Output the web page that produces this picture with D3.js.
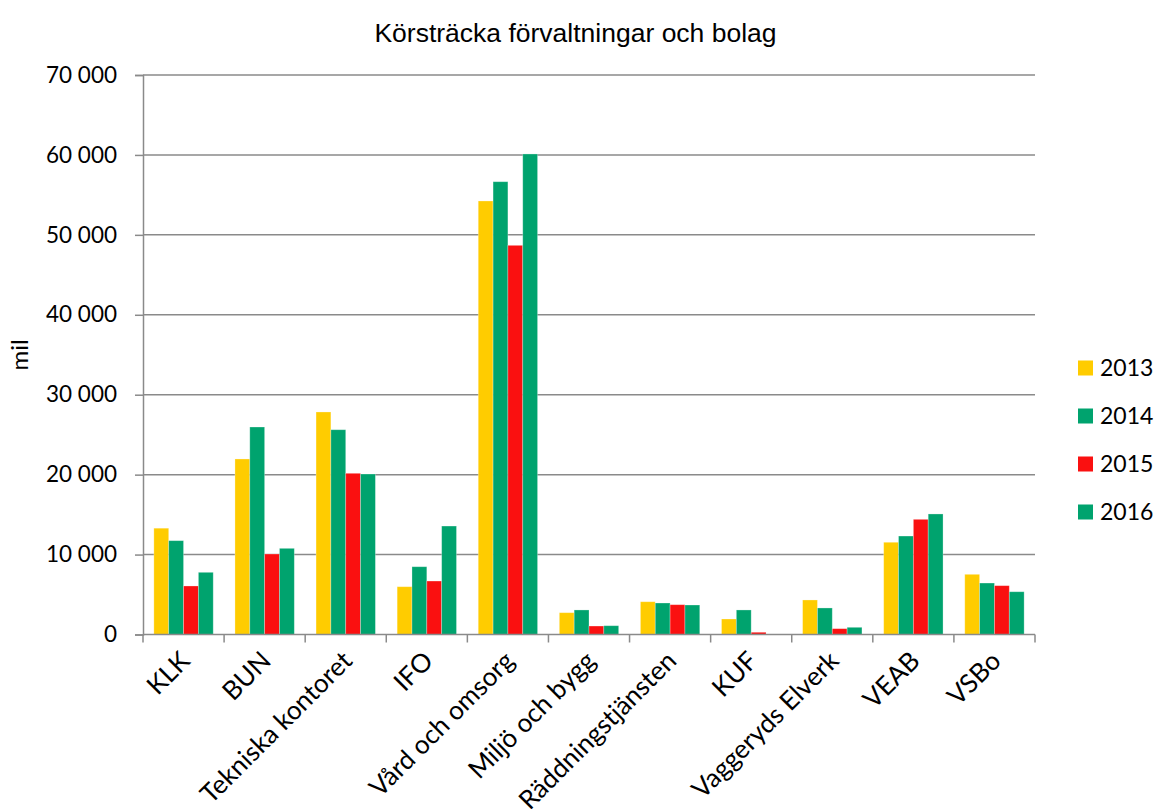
<!DOCTYPE html>
<html>
<head>
<meta charset="utf-8">
<script src="https://cdn.jsdelivr.net/npm/d3@7"></script>
<style>
  body { margin: 0; background: #fff; }
  svg { display: block; }
</style>
</head>
<body>
<div id="grafico"></div>
<script>
// Dados do gráfico
const kategorier = ["KLK", "BUN", "Tekniska kontoret", "IFO", "Vård och omsorg", "Miljö och bygg",
  "Räddningstjänsten", "KUF", "Vaggeryds Elverk", "VEAB", "VSBo"];
const ar = ["2013", "2014", "2015", "2016"];
const v2013 = [13300, 21960, 27840, 5980, 54240, 2730, 4100, 1940, 4320, 11540, 7530];
const v2014 = [11740, 25960, 25620, 8480, 56650, 3070, 3940, 3070, 3320, 12320, 6440];
const v2015 = [6070, 10070, 20170, 6690, 48690, 1060, 3730, 280, 730, 14410, 6110];
const v2016 = [7780, 10780, 20080, 13570, 60120, 1100, 3690, 0, 900, 15080, 5350];
const yTicks = [0, 10000, 20000, 30000, 40000, 50000, 60000, 70000];

const serier = [v2013, v2014, v2015, v2016];
const farger = ["#ffcc00", "#00a36e", "#fa1010", "#00a36e"];

const largura = 1155;
const altura = 809;
const margem = { top: 75, right: 120, bottom: 174.5, left: 143 };

const svg = d3.select("#grafico").append("svg")
  .attr("width", largura)
  .attr("height", altura);

// Escalas
const x0 = d3.scaleBand()
  .domain(kategorier)
  .range([margem.left, largura - margem.right])
  .paddingInner(0.268)
  .paddingOuter(0.134);

const x1 = d3.scaleBand()
  .domain(ar)
  .range([0, x0.bandwidth()]);

const y = d3.scaleLinear()
  .domain([0, 70000])
  .range([altura - margem.bottom, margem.top]);

const fmt = d3.formatLocale({ decimal: ",", thousands: " ", grouping: [3], currency: ["", ""] }).format(",");

// Linhas de grade
svg.append("g")
  .selectAll("line")
  .data(yTicks.slice(1))
  .enter()
  .append("line")
  .attr("x1", margem.left)
  .attr("x2", largura - margem.right)
  .attr("y1", d => y(d))
  .attr("y2", d => y(d))
  .attr("stroke", "#8a8a8a")
  .attr("stroke-width", 1.5);

// Barras
const grupos = svg.append("g")
  .selectAll("g")
  .data(kategorier)
  .enter()
  .append("g")
  .attr("transform", d => `translate(${x0(d)},0)`);

grupos.selectAll("rect")
  .data((d, i) => ar.map((a, j) => ({ ar: a, valor: serier[j][i], cor: farger[j] })))
  .enter()
  .append("rect")
  .attr("x", d => x1(d.ar))
  .attr("y", d => y(d.valor))
  .attr("width", x1.bandwidth())
  .attr("height", d => y(0) - y(d.valor))
  .attr("fill", d => d.cor)
  .attr("stroke", "rgba(255,255,255,0.35)")
  .attr("stroke-width", 0.8);

// Eixo Y
const eixoY = svg.append("g")
  .attr("transform", `translate(${margem.left},0)`)
  .call(d3.axisLeft(y).tickValues(yTicks).tickFormat(fmt).tickSizeOuter(0).tickSize(8).tickPadding(18));

eixoY.select(".domain").attr("stroke", "#8a8a8a").attr("stroke-width", 1.5);
eixoY.selectAll(".tick line").attr("stroke", "#8a8a8a").attr("stroke-width", 1.5);
eixoY.selectAll(".tick text")
  .attr("font-family", "Lato, 'Open Sans', sans-serif")
  .attr("font-size", 22.5)
  .attr("fill", "#000");

// Eixo X
const eixoX = svg.append("g")
  .attr("transform", `translate(0,${y(0)})`);

eixoX.append("line")
  .attr("x1", margem.left)
  .attr("x2", largura - margem.right)
  .attr("stroke", "#8a8a8a")
  .attr("stroke-width", 1.5);

const limites = kategorier.map(d => x0(d) - x0.step() * x0.paddingOuter()).concat([largura - margem.right]);
eixoX.selectAll(".tick-x")
  .data(limites)
  .enter()
  .append("line")
  .attr("x1", d => d)
  .attr("x2", d => d)
  .attr("y1", 0)
  .attr("y2", 8)
  .attr("stroke", "#8a8a8a")
  .attr("stroke-width", 1.5);

eixoX.selectAll("text")
  .data(kategorier)
  .enter()
  .append("text")
  .attr("transform", d => `translate(${x0(d) + x0.bandwidth() / 2 + 8},${28}) rotate(-45)`)
  .attr("text-anchor", "end")
  .attr("font-family", "Lato, 'Open Sans', sans-serif")
  .attr("font-size", 26)
  .attr("fill", "#000")
  .text(d => d);

// Título
svg.append("text")
  .attr("x", 575.5)
  .attr("y", 41.5)
  .attr("text-anchor", "middle")
  .attr("font-family", "'Liberation Sans', Arial, sans-serif")
  .attr("font-size", 26.5)
  .attr("fill", "#000")
  .text("Körsträcka förvaltningar och bolag");

// Título do eixo Y
svg.append("text")
  .attr("transform", "translate(28,355) rotate(-90)")
  .attr("text-anchor", "middle")
  .attr("font-family", "Lato, 'Open Sans', sans-serif")
  .attr("font-size", 24)
  .attr("fill", "#000")
  .text("mil");

// Legenda
const legenda = svg.append("g")
  .selectAll("g")
  .data(ar)
  .enter()
  .append("g")
  .attr("transform", (d, i) => `translate(1078,${368 + i * 48})`);

legenda.append("rect")
  .attr("x", 0)
  .attr("y", -7.5)
  .attr("width", 15)
  .attr("height", 15)
  .attr("fill", (d, i) => farger[i]);

legenda.append("text")
  .attr("x", 22)
  .attr("y", 0)
  .attr("dy", "0.35em")
  .attr("font-family", "Lato, 'Open Sans', sans-serif")
  .attr("font-size", 23)
  .attr("fill", "#000")
  .text(d => d);
</script>
</body>
</html>
